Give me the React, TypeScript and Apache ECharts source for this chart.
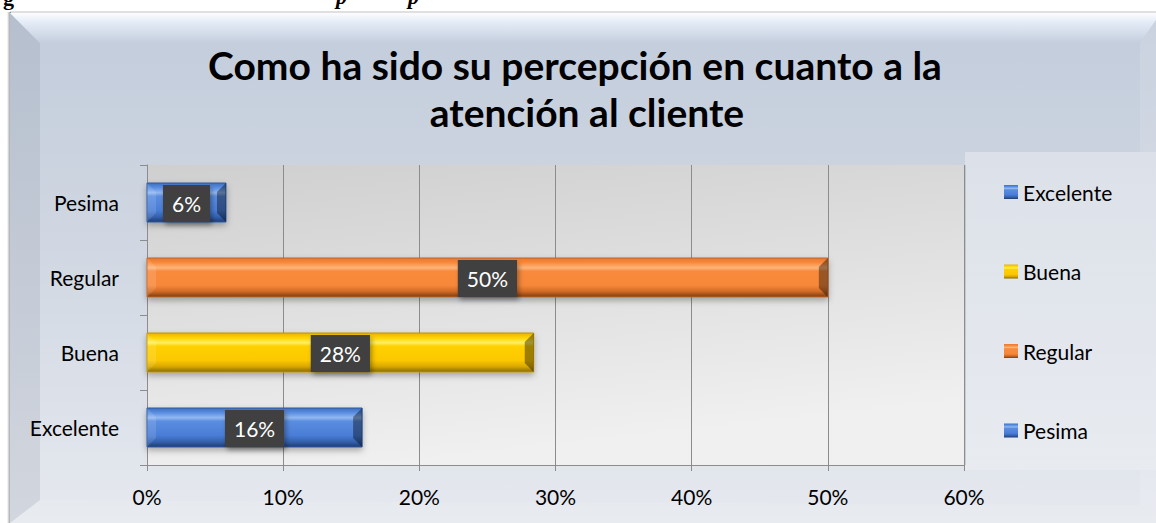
import React, { useEffect, useRef } from "react";
import * as echarts from "echarts";

const categories = ["Excelente", "Buena", "Regular", "Pesima"];
const values = [15.8, 28.4, 50.0, 5.8];
const legendOrder = ["Excelente", "Buena", "Regular", "Pesima"];
const xMin = 0;
const xMax = 60;
const xInterval = 10;
const titleLines = ["Como ha sido su percepción en cuanto a la", "atención al cliente"];

type Pal = { stops: string[]; border: string };
const BLUE: Pal = {
  stops: ["#3f6fc0", "#5a8ee0", "#92b8f2", "#5a8de0", "#4a7dd6", "#3462b0", "#1f3c72"],
  border: "#2f5aa0",
};
const ORANGE: Pal = {
  stops: ["#e8792e", "#f98a3c", "#fdb57a", "#f98a3c", "#f7883a", "#d06a25", "#7a3c12"],
  border: "#c0652a",
};
const YELLOW: Pal = {
  stops: ["#e6b400", "#ffd200", "#fff060", "#ffd000", "#fcc800", "#d9a800", "#8a6a00"],
  border: "#c09400",
};
const palettes: Pal[] = [BLUE, YELLOW, ORANGE, BLUE];

const grad = (p: Pal) =>
  new echarts.graphic.LinearGradient(0, 0, 0, 1, [
    { offset: 0, color: p.stops[0] },
    { offset: 0.12, color: p.stops[1] },
    { offset: 0.25, color: p.stops[2] },
    { offset: 0.34, color: p.stops[3] },
    { offset: 0.7, color: p.stops[4] },
    { offset: 0.86, color: p.stops[5] },
    { offset: 1, color: p.stops[6] },
  ]);

const FONT = "Lato, Carlito, 'Open Sans', sans-serif";
const FS = 21;

export default function App() {
  const ref = useRef<HTMLDivElement>(null);
  useEffect(() => {
    document.body.style.margin = "0";
    if (!ref.current) return;
    const chart = echarts.init(ref.current, null, { renderer: "svg" });

    const series = categories.map((name, i) => ({
      type: "custom" as const,
      name,
      itemStyle: { color: palettes[i].stops[4] },
      encode: { x: 0, y: 1 },
      data: [[values[i], i]],
      renderItem: (params: any, api: any) => {
        const v = api.value(0);
        const c = api.value(1);
        const p0 = api.coord([0, c]);
        const p1 = api.coord([v, c]);
        const band = api.size([0, 1])[1];
        const h = band * 0.52;
        const x0 = p0[0];
        const x1 = p1[0];
        const y0 = p0[1] - h / 2;
        const y1 = p0[1] + h / 2;
        const b = 9;
        const pal = palettes[i];
        return {
          type: "group",
          children: [
            {
              type: "rect",
              shape: { x: x0, y: y0, width: x1 - x0, height: h },
              style: {
                fill: grad(pal),
                stroke: pal.border,
                lineWidth: 1,
                shadowColor: "rgba(0,0,0,0.3)",
                shadowBlur: 6,
                shadowOffsetY: 3,
              },
            },
            {
              type: "polygon",
              shape: { points: [[x0, y0], [x0 + b, y0 + b], [x0 + b, y1 - b], [x0, y1]] },
              style: { fill: "rgba(255,255,255,0.12)" },
            },
            {
              type: "polygon",
              shape: { points: [[x1, y0], [x1 - b, y0 + b], [x1 - b, y1 - b], [x1, y1]] },
              style: { fill: "rgba(0,0,0,0.38)" },
            },
            {
              type: "text",
              style: {
                text: Math.round(v) + "%",
                x: (x0 + x1) / 2,
                y: (y0 + y1) / 2 + 1,
                align: "center",
                verticalAlign: "middle",
                fill: "#ffffff",
                fontSize: FS,
                fontFamily: FONT,
                lineHeight: 23,
                backgroundColor: "#404040",
                padding: [7, 9],
                shadowColor: "rgba(0,0,0,0.35)",
                shadowBlur: 5,
                shadowOffsetX: 2,
                shadowOffsetY: 3,
              },
            },
          ],
        };
      },
    }));

    const bg = (z: number) => ({ z, silent: true });

    chart.setOption({
      animation: false,
      textStyle: { fontFamily: FONT },
      graphic: [
        {
          type: "rect",
          ...bg(-20),
          shape: { x: 7, y: 12, width: 4, height: 511 },
          style: {
            fill: new echarts.graphic.LinearGradient(0, 0, 1, 0, [
              { offset: 0, color: "rgba(0,0,0,0)" },
              { offset: 1, color: "rgba(0,0,0,0.45)" },
            ]),
          },
        },
        {
          type: "rect",
          ...bg(-20),
          shape: { x: 10, y: 11, width: 1146, height: 2 },
          style: { fill: "rgba(0,0,0,0.12)" },
        },
        {
          type: "rect",
          ...bg(-19),
          shape: { x: 10, y: 13, width: 1146, height: 510 },
          style: {
            fill: new echarts.graphic.LinearGradient(0, 0, 0, 1, [
              { offset: 0, color: "#c2ccdb" },
              { offset: 0.45, color: "#d0d7e2" },
              { offset: 1, color: "#e6e9ef" },
            ]),
          },
        },
        {
          type: "polygon",
          ...bg(-18),
          shape: { points: [[10, 13], [40, 43], [40, 500], [10, 523]] },
          style: {
            fill: new echarts.graphic.LinearGradient(0, 0, 0, 1, [
              { offset: 0, color: "#b5bfce" },
              { offset: 1, color: "#d2d6de" },
            ]),
          },
        },
        {
          type: "polygon",
          ...bg(-18),
          shape: { points: [[1156, 20], [1140, 43], [1140, 505], [1156, 523]] },
          style: { fill: "rgba(255,255,255,0.12)" },
        },
        {
          type: "polygon",
          ...bg(-17),
          shape: { points: [[10, 13], [1156, 13], [1156, 20], [1140, 43], [40, 43]] },
          style: {
            fill: new echarts.graphic.LinearGradient(0, 0, 0, 1, [
              { offset: 0, color: "#fbfcfe" },
              { offset: 0.35, color: "#e2eaf6" },
              { offset: 1, color: "#c4cedd" },
            ]),
          },
        },
        {
          type: "polygon",
          ...bg(-17),
          shape: { points: [[40, 500], [1140, 505], [1156, 523], [10, 523]] },
          style: { fill: "rgba(255,255,255,0.1)" },
        },
        {
          type: "rect",
          ...bg(-16),
          shape: { x: 965, y: 152, width: 191, height: 318 },
          style: {
            fill: new echarts.graphic.LinearGradient(0, 0, 0, 1, [
              { offset: 0, color: "#dce1e9" },
              { offset: 1, color: "#e8ebf0" },
            ]),
          },
        },
        {
          type: "rect",
          ...bg(-15),
          shape: { x: 964, y: 165, width: 2, height: 300 },
          style: { fill: "rgba(0,0,0,0.12)" },
        },
        {
          type: "rect",
          ...bg(-15),
          shape: { x: 147, y: 165, width: 817, height: 300 },
          style: {
            fill: new echarts.graphic.LinearGradient(0, 0, 0.3, 1, [
              { offset: 0, color: "#cfcfcf" },
              { offset: 1, color: "#f0f0f0" },
            ]),
          },
        },
        {
          type: "text",
          ...bg(-10),
          style: {
            text: "g",
            x: 3,
            y: 8,
            verticalAlign: "bottom",
            font: "bold 22px 'Liberation Serif', serif",
            fill: "#000",
          },
        },
        {
          type: "text",
          ...bg(-10),
          style: {
            text: "p",
            x: 336,
            y: 7,
            verticalAlign: "bottom",
            font: "italic bold 22px 'Liberation Serif', serif",
            fill: "#000",
          },
        },
        {
          type: "text",
          ...bg(-10),
          style: {
            text: "p",
            x: 408,
            y: 7,
            verticalAlign: "bottom",
            font: "italic bold 22px 'Liberation Serif', serif",
            fill: "#000",
          },
        },
        {
          type: "text",
          z: 5,
          silent: true,
          style: {
            text: titleLines[0],
            x: 575,
            y: 65,
            align: "center",
            verticalAlign: "middle",
            font: "bold 39px " + FONT,
            fill: "#000",
          },
        },
        {
          type: "text",
          z: 5,
          silent: true,
          style: {
            text: titleLines[1],
            x: 587,
            y: 112,
            align: "center",
            verticalAlign: "middle",
            font: "bold 39px " + FONT,
            fill: "#000",
          },
        },
      ],
      legend: {
        orient: "vertical",
        left: 999,
        top: 176,
        itemWidth: 14,
        itemHeight: 14,
        itemGap: 57.5,
        itemTextGap: 5,
        icon: "rect",
        selectedMode: false,
        textStyle: { fontFamily: FONT, fontSize: FS, lineHeight: 22, color: "#000" },
        data: legendOrder.map((n) => {
          const i = categories.indexOf(n);
          return { name: n, itemStyle: { color: grad(palettes[i]) } };
        }),
      },
      grid: { left: 147, right: 192, top: 165, bottom: 58, containLabel: false },
      xAxis: {
        type: "value",
        min: xMin,
        max: xMax,
        interval: xInterval,
        axisLine: { show: true, lineStyle: { color: "#8c8c8c" } },
        axisTick: { show: true, length: 6, lineStyle: { color: "#8c8c8c" } },
        splitLine: { show: true, lineStyle: { color: "#8c8c8c", width: 1 } },
        axisLabel: {
          formatter: "{value}%",
          color: "#000",
          fontSize: FS,
          fontFamily: FONT,
          margin: 21,
        },
      },
      yAxis: {
        type: "category",
        data: categories,
        axisLine: { show: true, lineStyle: { color: "#8c8c8c" } },
        axisTick: { show: true, length: 7, lineStyle: { color: "#8c8c8c" } },
        axisLabel: { color: "#000", fontSize: FS, fontFamily: FONT, margin: 28 },
        splitLine: { show: false },
      },
      series,
    });
    return () => chart.dispose();
  }, []);
  return <div ref={ref} style={{ width: 1156, height: 523 }} />;
}
